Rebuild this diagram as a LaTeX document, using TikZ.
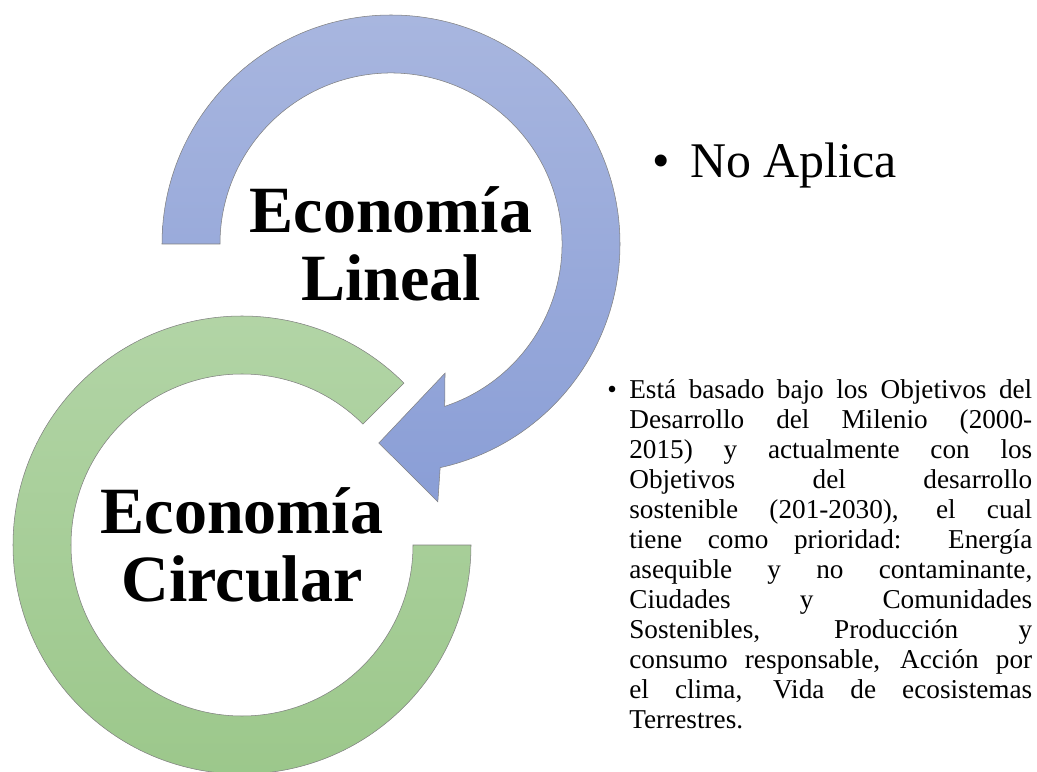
\documentclass[tikz,border=0pt]{standalone}
\usepackage{fontspec}
\setmainfont{Liberation Serif}
\usetikzlibrary{positioning}
\definecolor{linealtop}{HTML}{A8B6DF}
\definecolor{linealbottom}{HTML}{8A9ED6}
\definecolor{circulartop}{HTML}{B3D5A7}
\definecolor{circularbottom}{HTML}{9BC78A}

\begin{document}
\begin{tikzpicture}[x=0.02cm,y=0.02cm,
  ringtitle/.style={font=\fontsize{37.6}{38.7}\selectfont\bfseries, align=center},
  ringline/.style={draw=black!50, line width=0.3pt}]
  \useasboundingbox (0,0) rectangle (1037,771);
  \coordinate (lineal) at (391,527);
  \coordinate (circular) at (242,226);

  % green ring
  \path[ringline, top color=circulartop, bottom color=circularbottom, shift={(circular)}]
    (45:229) arc[start angle=45, end angle=360, radius=229]
    -- (0:171) arc[start angle=360, end angle=45, radius=171] -- cycle;

  % blue circular arrow
  \path[ringline, top color=linealtop, bottom color=linealbottom, shift={(lineal)}]
    (180:229) arc[start angle=180, end angle=-77.6, radius=229]
    -- (-79.7:262) -- (-93.5:199.4) -- (-67.3:140) -- (-71.7:171)
    arc[start angle=-71.7, end angle=180, radius=171] -- cycle;

  \node[ringtitle] (linealtext) at (lineal) {Economía\\Lineal};
  \node[ringtitle] (circulartext) at (circular) {Economía\\Circular};

  \node[anchor=base west, inner sep=0pt, font=\fontsize{28.4}{30}\selectfont]
    (noaplica) at (652,593) {\makebox[0.76cm][l]{•}No Aplica};

  \node[anchor=north west, inner sep=0pt, text width=8.5cm, align=justify,
    font=\fontsize{15.5}{17.07}\selectfont] (objetivos) at (607,392)
    {\tolerance=10000\hangindent=0.44cm\hangafter=1\makebox[0.44cm][l]{•}Está basado bajo los Objetivos del\linebreak
     Desarrollo del Milenio (2000-\linebreak
     2015) y actualmente con los\linebreak
     Objetivos del desarrollo\linebreak
     sostenible (201-2030), el cual\linebreak
     tiene como prioridad: Energía\linebreak
     asequible y no contaminante,\linebreak
     Ciudades y Comunidades\linebreak
     Sostenibles, Producción y\linebreak
     consumo responsable, Acción por\linebreak
     el clima, Vida de ecosistemas\linebreak
     Terrestres.\par};
\end{tikzpicture}
\end{document}
